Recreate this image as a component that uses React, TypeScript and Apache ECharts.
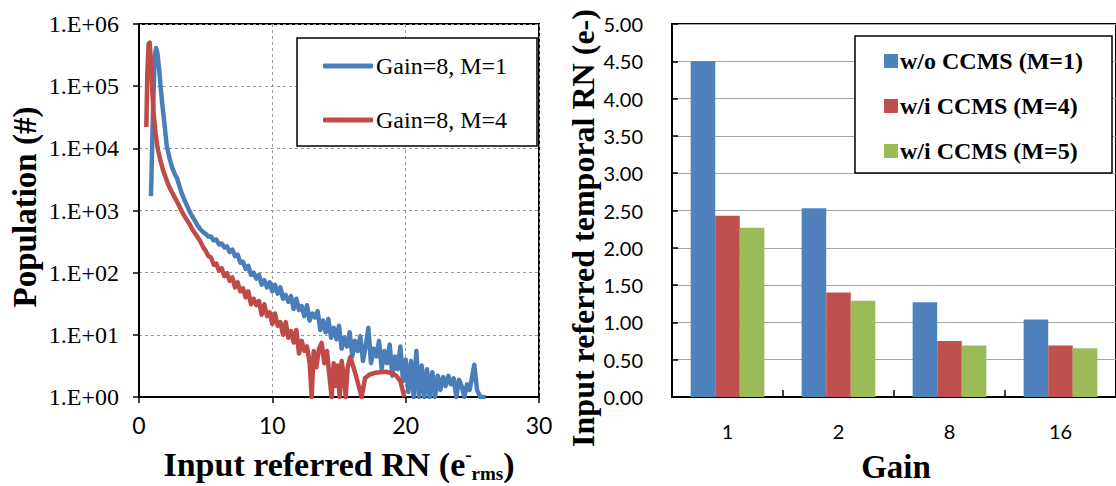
import React, { useEffect, useRef } from "react";
import * as echarts from "echarts";

const SERIF = "'Liberation Serif', 'Times New Roman', serif";
const SANS = "Lato, 'Liberation Sans', sans-serif";

// ---- Left chart: histogram of input referred RN (log scale) ----
const lineSeriesNames = ["Gain=8, M=1", "Gain=8, M=4"];
const lineColors = ["#4A7EBB", "#BE4B48"];

const rnM1: [number, number][] = [
  [0.9, 1700], [1.05, 40000], [1.18, 300000], [1.28, 410000], [1.38, 340000], [1.5, 200000],
  [1.62, 100000], [1.75, 50000], [1.9, 26000], [2.08, 11000], [2.3, 6800], [2.5, 4800],
  [2.7, 3800], [2.85, 3300], [3.0, 2600], [3.2, 1900], [3.4, 1500], [3.6, 1200], [3.8, 960],
  [4.0, 800], [4.2, 680], [4.4, 570], [4.6, 500], [4.8, 450], [5.0, 420], [5.2, 380],
  [5.4, 380], [5.6, 330], [5.8, 340], [6.0, 285], [6.2, 295], [6.4, 255], [6.6, 265],
  [6.8, 215], [7.0, 235], [7.2, 185], [7.4, 195], [7.6, 145], [7.8, 150], [8.0, 115],
  [8.2, 128], [8.4, 92], [8.6, 100], [8.8, 80], [9.0, 92], [9.2, 64], [9.4, 76], [9.6, 58],
  [9.8, 70], [10.0, 50], [10.2, 64], [10.4, 46], [10.6, 58], [10.8, 38], [11.0, 44],
  [11.2, 34], [11.4, 42], [11.6, 26], [11.8, 38], [12.0, 25], [12.2, 29], [12.4, 20],
  [12.6, 30], [12.8, 17], [13.0, 22], [13.2, 19], [13.4, 24], [13.6, 12], [13.8, 17],
  [14.0, 11], [14.2, 18], [14.4, 9], [14.6, 13], [14.8, 8.5], [15.0, 14], [15.2, 6],
  [15.4, 9], [15.6, 6.5], [15.8, 11], [16.0, 4.5], [16.2, 8], [16.4, 5.5], [16.6, 9.5],
  [16.8, 3.8], [17.0, 6.5], [17.2, 13], [17.4, 3.5], [17.6, 6], [17.8, 4.5], [18.0, 8],
  [18.2, 2.8], [18.4, 5.5], [18.6, 3.5], [18.8, 7], [19.0, 2.2], [19.2, 4.5], [19.4, 2.8],
  [19.6, 6.5], [19.8, 1.8], [20.0, 4], [20.2, 1.2], [20.4, 3.8], [20.6, 1], [20.8, 5.5],
  [21.0, 1], [21.2, 3.2], [21.4, 1], [21.6, 2.8], [21.8, 1], [22.0, 2.5], [22.2, 1],
  [22.4, 2.2], [22.6, 1.3], [22.8, 2.1], [23.0, 1.5], [23.2, 2.2], [23.4, 1.6], [23.6, 2],
  [23.8, 1], [24.0, 1.9], [24.2, 1.5], [24.4, 1], [24.6, 1.6], [24.8, 1.3], [25.0, 2.2],
  [25.15, 3.3], [25.35, 1.3], [25.6, 1], [26.0, 1],
];

const rnM4: [number, number][] = [
  [0.55, 22000], [0.62, 150000], [0.72, 480000], [0.8, 500000], [0.9, 250000], [1.0, 80000],
  [1.1, 35000], [1.25, 17000], [1.4, 10000], [1.6, 6400], [1.8, 4500], [2.0, 3400],
  [2.2, 2600], [2.4, 2100], [2.6, 1750], [2.8, 1450], [3.0, 1200], [3.2, 980], [3.4, 820],
  [3.6, 700], [3.8, 600], [4.0, 500], [4.2, 430], [4.4, 370], [4.6, 320], [4.8, 260],
  [5.0, 225], [5.2, 185], [5.4, 175], [5.6, 135], [5.8, 140], [6.0, 108], [6.2, 118],
  [6.4, 88], [6.6, 98], [6.8, 74], [7.0, 84], [7.2, 58], [7.4, 70], [7.6, 50], [7.8, 56],
  [8.0, 40], [8.2, 50], [8.4, 31], [8.6, 38], [8.8, 30], [9.0, 35], [9.2, 21], [9.4, 31],
  [9.6, 20], [9.8, 23], [10.0, 15], [10.2, 22], [10.4, 14], [10.6, 16], [10.8, 10],
  [11.0, 16], [11.2, 9], [11.4, 11.5], [11.6, 7.5], [11.8, 12], [12.0, 5], [12.2, 8],
  [12.4, 5.5], [12.6, 6.5], [12.8, 3.5], [12.95, 1], [13.1, 5.5], [13.3, 3], [13.5, 6],
  [13.7, 7.4], [13.9, 3.5], [14.1, 5.5], [14.25, 2.5], [14.45, 1], [14.6, 3.5], [14.75, 1.5],
  [14.9, 3.2], [15.05, 1], [15.2, 3.8], [15.35, 2.2], [15.5, 1], [15.65, 3], [15.85, 4.4],
  [16.2, 2.5], [16.7, 1], [16.95, 2], [17.3, 2.3], [17.7, 2.45], [18.1, 2.5], [18.5, 2.55],
  [18.9, 2.45], [19.3, 2.2], [19.6, 1.8], [19.9, 1],
];

// ---- Right chart: temporal RN by gain ----
const gainCategories = ["1", "2", "8", "16"];
const barSeriesNames = ["w/o CCMS (M=1)", "w/i CCMS (M=4)", "w/i CCMS (M=5)"];
const barColors = ["#4F81BD", "#C0504D", "#9BBB59"];
const noiseM1 = [4.5, 2.53, 1.27, 1.04];
const noiseM4 = [2.43, 1.4, 0.75, 0.69];
const noiseM5 = [2.27, 1.29, 0.69, 0.655];

export default function App() {
  const ref = useRef<HTMLDivElement>(null);

  useEffect(() => {
    if (!ref.current) return;
    const chart = echarts.init(ref.current, null, { renderer: "svg" });

    const option: any = {
      animation: false,
      backgroundColor: "#fff",
      grid: [
        { left: 139, top: 24, width: 400, height: 373, show: true, borderColor: "#000", borderWidth: 2, backgroundColor: "transparent" },
        { left: 672, top: 24, width: 448, height: 373, show: true, borderColor: "#000", borderWidth: 2, backgroundColor: "transparent" },
      ],
      xAxis: [
        {
          gridIndex: 0,
          type: "value",
          min: 0,
          max: 30,
          interval: 10,
          axisLine: { show: true, lineStyle: { color: "#000", width: 2 } },
          axisTick: { show: true, inside: false, length: 6, lineStyle: { color: "#000", width: 1.5 } },
          axisLabel: { margin: 16, fontFamily: SANS, fontSize: 23, color: "#000" },
          splitLine: { show: true, lineStyle: { color: "#999", type: [3, 3], width: 1 } },
        },
        {
          gridIndex: 1,
          type: "category",
          data: gainCategories,
          axisLine: { show: true, lineStyle: { color: "#000", width: 2 } },
          axisTick: { show: true, inside: true, length: 7, lineStyle: { color: "#000", width: 1.5 } },
          axisLabel: { margin: 24, fontFamily: SANS, fontSize: 20, color: "#000" },
          splitLine: { show: false },
        },
      ],
      yAxis: [
        {
          gridIndex: 0,
          type: "log",
          logBase: 10,
          min: 1,
          max: 1000000,
          splitNumber: 6,
          axisLine: { show: true, lineStyle: { color: "#000", width: 2 } },
          axisTick: { show: true, inside: false, length: 6, lineStyle: { color: "#000", width: 1.5 } },
          minorTick: { show: false },
          axisLabel: {
            margin: 20,
            fontFamily: SERIF,
            fontSize: 24,
            color: "#000",
            formatter: (v: number) => "1.E+" + String(Math.round(Math.log10(v))).padStart(2, "0"),
          },
          splitLine: { show: true, lineStyle: { color: "#999", type: [3, 3], width: 1 } },
        },
        {
          gridIndex: 1,
          type: "value",
          min: 0,
          max: 5,
          interval: 0.5,
          axisLine: { show: true, lineStyle: { color: "#000", width: 2 } },
          axisTick: { show: true, inside: true, length: 6, lineStyle: { color: "#000", width: 1.5 } },
          axisLabel: {
            margin: 29,
            fontFamily: SANS,
            fontSize: 20,
            color: "#000",
            formatter: (v: number) => v.toFixed(2),
          },
          splitLine: { show: true, lineStyle: { color: "#a6a6a6", width: 1 } },
        },
      ],
      legend: [
        {
          data: lineSeriesNames,
          orient: "vertical",
          left: 323,
          top: 54,
          icon: "roundRect",
          itemWidth: 50,
          itemHeight: 5,
          itemGap: 30,
          padding: 0,
          selectedMode: false,
          textStyle: { fontFamily: SERIF, fontSize: 24, color: "#000", lineHeight: 24, padding: [0, 0, 0, -2] },
          z: 5,
        },
        {
          data: barSeriesNames,
          orient: "vertical",
          left: 884,
          top: 49,
          itemWidth: 14,
          itemHeight: 14,
          itemGap: 21,
          padding: 0,
          icon: "rect",
          selectedMode: false,
          textStyle: { fontFamily: SERIF, fontSize: 24, fontWeight: "bold", color: "#000", lineHeight: 24, padding: [0, 0, 0, -3] },
          z: 5,
        },
      ],
      graphic: [
        {
          type: "rect",
          z: 3,
          shape: { x: 297, y: 38, width: 240, height: 108 },
          style: { fill: "#fff", stroke: "#000", lineWidth: 1.5 },
        },
        {
          type: "rect",
          z: 3,
          shape: { x: 855, y: 36, width: 257, height: 137 },
          style: { fill: "#fff", stroke: "#000", lineWidth: 1.5 },
        },
        {
          type: "text",
          x: 25,
          y: 207,
          rotation: Math.PI / 2,
          style: {
            text: "Population (#)",
            fontFamily: SERIF,
            fontSize: 33,
            fontWeight: "bold",
            fill: "#000",
            align: "center",
            verticalAlign: "middle",
            textAlign: "center",
            textVerticalAlign: "middle",
          },
        },
        {
          type: "text",
          x: 339,
          y: 464,
          style: {
            text: "{a|Input referred RN (e}{sup|-}{sub|rms}{a|)}",
            fill: "#000",
            align: "center",
            verticalAlign: "middle",
            textAlign: "center",
            textVerticalAlign: "middle",
            rich: {
              a: { fontFamily: SERIF, fontSize: 34, fontWeight: "bold", lineHeight: 38, fill: "#000" },
              sup: { fontFamily: SERIF, fontSize: 19, fontWeight: "bold", lineHeight: 18, verticalAlign: "top", fill: "#000" },
              sub: { fontFamily: SERIF, fontSize: 19, fontWeight: "bold", lineHeight: 18, verticalAlign: "bottom", fill: "#000" },
            },
          },
        },
        {
          type: "text",
          x: 583,
          y: 228,
          rotation: Math.PI / 2,
          style: {
            text: "Input referred temporal RN (e-)",
            fontFamily: SERIF,
            fontSize: 32,
            fontWeight: "bold",
            fill: "#000",
            align: "center",
            verticalAlign: "middle",
            textAlign: "center",
            textVerticalAlign: "middle",
          },
        },
        {
          type: "text",
          x: 896,
          y: 467,
          style: {
            text: "Gain",
            fontFamily: SERIF,
            fontSize: 33,
            fontWeight: "bold",
            fill: "#000",
            align: "center",
            verticalAlign: "middle",
            textAlign: "center",
            textVerticalAlign: "middle",
          },
        },
      ],
      series: [
        {
          name: lineSeriesNames[0],
          type: "line",
          xAxisIndex: 0,
          yAxisIndex: 0,
          data: rnM1,
          symbol: "none",
          lineStyle: { width: 4.5, color: lineColors[0], join: "round" },
          itemStyle: { color: lineColors[0] },
          z: 2,
        },
        {
          name: lineSeriesNames[1],
          type: "line",
          xAxisIndex: 0,
          yAxisIndex: 0,
          data: rnM4,
          symbol: "none",
          lineStyle: { width: 4.5, color: lineColors[1], join: "round" },
          itemStyle: { color: lineColors[1] },
          z: 2,
        },
        ...[noiseM1, noiseM4, noiseM5].map((d, i) => ({
          name: barSeriesNames[i],
          type: "bar",
          xAxisIndex: 1,
          yAxisIndex: 1,
          data: d,
          barGap: "0%",
          barCategoryGap: "33.6%",
          itemStyle: { color: barColors[i] },
          z: 2,
        })),
      ],
    };

    chart.setOption(option);
    return () => chart.dispose();
  }, []);

  return (
    <div
      ref={ref}
      style={{ position: "absolute", left: 0, top: 0, width: 1116, height: 486 }}
    />
  );
}
